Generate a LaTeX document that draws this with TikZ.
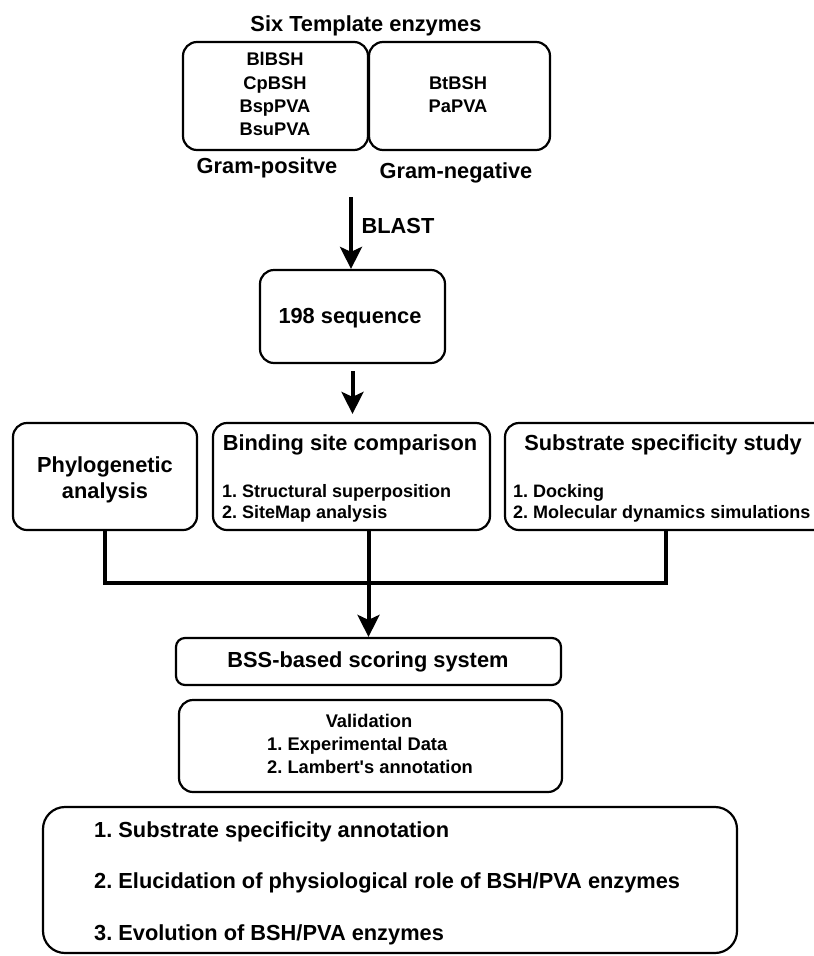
\documentclass[tikz,border=0pt]{standalone}
\usepackage{fontspec}
\setmainfont{Liberation Sans}
\usetikzlibrary{arrows.meta}
\begin{document}
\frenchspacing
\begin{tikzpicture}[x=1pt,y=1pt,
  box/.style={draw, line width=2.2pt, rounded corners=14pt, inner sep=0pt},
  big/.style={font=\fontsize{21.8}{25}\selectfont\bfseries, inner sep=0pt, anchor=base},
  small/.style={font=\fontsize{18.3}{22}\selectfont\bfseries, inner sep=0pt, anchor=base},
  item/.style={font=\fontsize{18}{22}\selectfont\bfseries, inner sep=0pt, anchor=base west},
  conn/.style={line width=4pt},
  arr/.style={line width=4pt, -{Stealth[length=22pt,width=22pt,inset=5pt]}},
]
\useasboundingbox (0,0) rectangle (814,-956);
\clip (0,0) rectangle (814,-956);
\fill[white] (0,0) rectangle (814,-956);

% top
\node[big] (title) at (366,-31) {Six Template enzymes};
\node[box, minimum width=185pt, minimum height=108pt] (gp) at (275.5,-96) {};
\node[box, minimum width=181pt, minimum height=108pt] (gn) at (459.5,-96) {};
\node[small] (e1) at (275,-65) {BlBSH};
\node[small] (e2) at (275,-89) {CpBSH};
\node[small] (e3) at (275,-112) {BspPVA};
\node[small] (e4) at (275,-135) {BsuPVA};
\node[small] (e5) at (458,-89) {BtBSH};
\node[small] (e6) at (458,-112) {PaPVA};
\node[big] (gpl) at (267,-173) {Gram-positve};
\node[big] (gnl) at (456,-178) {Gram-negative};

% BLAST
\coordinate (bstart) at (351,-197);
\node[box, minimum width=185pt, minimum height=93pt] (seq) at (352.5,-316.5) {};
\node[big] (seqt) at (350,-323) {198 sequence};
\draw[arr] (bstart) -- (bstart |- seq.north);
\node[big] (blast) at (398,-233) {BLAST};

% row
\node[box, minimum width=184pt, minimum height=107pt] (phylo) at (105,-476.5) {};
\node[box, minimum width=277pt, minimum height=107pt] (bind) at (351.5,-476.5) {};
\node[box, minimum width=322pt, minimum height=107pt] (sub) at (666,-476.5) {};
\draw[arr, shorten <=7pt, shorten >=8pt] (seq.south) -- (seq.south |- bind.north);

\node[big] (ph1) at (105,-472) {Phylogenetic};
\node[big] (ph2) at (105,-498) {analysis};
\node[big] (bt) at (350,-450) {Binding site comparison};
\node[item] (b1) at (222,-497) {1. Structural superposition};
\node[item] (b2) at (222,-518) {2. SiteMap analysis};
\node[big] (st) at (663,-450) {Substrate specificity study};
\node[item] (s1) at (513,-497) {1. Docking};
\node[item] (s2) at (513,-518) {2. Molecular dynamics simulations};

% bottom boxes
\node[box, rounded corners=9pt, minimum width=385pt, minimum height=47pt] (bss) at (368.5,-661.5) {};
\node[big] (bsst) at (368,-667) {BSS-based scoring system};
\node[box, minimum width=383pt, minimum height=92pt] (val) at (370.5,-746) {};
\node[small] (v0) at (369,-727) {Validation};
\node[small, anchor=base west] (v1) at (267,-750) {1. Experimental Data};
\node[small, anchor=base west] (v2) at (267,-773) {2. Lambert\textquotesingle s annotation};
\node[box, rounded corners=22pt, minimum width=694pt, minimum height=146pt] (fin) at (390,-880) {};
\node[big, anchor=base west] (f1) at (94,-837) {1. Substrate specificity annotation};
\node[big, anchor=base west] (f2) at (94,-888) {2. Elucidation of physiological role of BSH/PVA enzymes};
\node[big, anchor=base west] (f3) at (94,-940) {3. Evolution of BSH/PVA enzymes};

% connectors
\coordinate (hy) at (0,-583);
\draw[conn] (phylo.south) -- (phylo.south |- hy) -- (sub.south |- hy) -- (sub.south);
\draw[conn] (bind.south -| bss.north) -- (bss.north |- hy);
\draw[arr] (bss.north |- hy) -- (bss.north);
\end{tikzpicture}
\end{document}
